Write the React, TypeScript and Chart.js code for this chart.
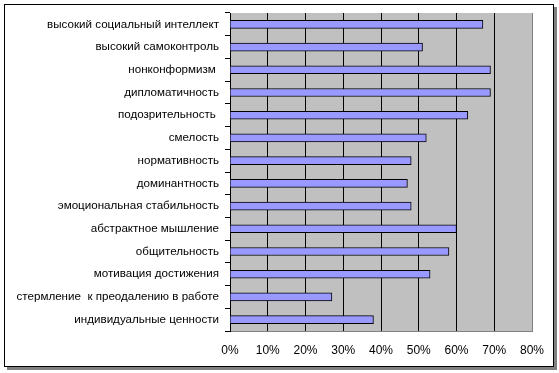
import React, { useEffect, useRef } from "react";
import { Chart, registerables } from "chart.js";

Chart.register(...registerables);

const categories = [
  "высокий социальный интеллект",
  "высокий самоконтроль",
  "нонконформизм ",
  "дипломатичность",
  "подозрительность ",
  "смелость",
  "нормативность",
  "доминантность",
  "эмоциональная стабильность",
  "абстрактное мышление",
  "общительность",
  "мотивация достижения",
  "стермление  к преодалению в работе",
  "индивидуальные ценности",
];

const values = [67, 51, 69, 69, 63, 52, 48, 47, 48, 60, 58, 53, 27, 38];

const xTicks = [0, 10, 20, 30, 40, 50, 60, 70, 80];

const plotBg = {
  id: "plotBg",
  beforeDraw(chart: any) {
    const { ctx, chartArea } = chart;
    ctx.save();
    ctx.fillStyle = "#C0C0C0";
    ctx.fillRect(chartArea.left, chartArea.top, chartArea.right - chartArea.left, chartArea.bottom - chartArea.top);
    ctx.restore();
  },
};

export default function App() {
  const ref = useRef<HTMLCanvasElement>(null);
  useEffect(() => {
    const chart = new Chart(ref.current!, {
      type: "bar",
      data: {
        labels: categories,
        datasets: [
          {
            data: values,
            backgroundColor: "#9999FF",
            borderColor: "#000000",
            borderWidth: 1,
            barThickness: 8,
          },
        ],
      },
      options: {
        indexAxis: "y",
        animation: false,
        responsive: false,
        layout: { padding: { top: 8, right: 21, left: 0, bottom: 0 } },
        plugins: { legend: { display: false }, tooltip: { enabled: false } },
        scales: {
          x: {
            min: 0,
            max: 80,
            afterBuildTicks: (s: any) => {
              s.ticks = xTicks.map((v) => ({ value: v }));
            },
            afterFit: (s: any) => {
              s.height = 35;
              s.paddingLeft = 0;
              s.paddingRight = 0;
            },
            grid: {
              color: (c: any) => (c.tick && c.tick.value === 80 ? "#808080" : "#000000"),
              lineWidth: 1,
              drawTicks: false,
            },
            border: { display: true, color: "#808080" },
            ticks: {
              padding: 12,
              color: "#000",
              font: { family: "Liberation Sans, Arial", size: 12 },
              callback: (v: any) => v + "%",
            },
          },
          y: {
            afterFit: (s: any) => {
              s.width = 225;
              s.paddingTop = 0;
              s.paddingBottom = 0;
            },
            grid: {
              offset: true,
              drawOnChartArea: false,
              drawTicks: true,
              tickLength: 5,
              color: "#000",
            },
            border: { display: true, color: "#000", width: 1 },
            ticks: {
              padding: 6,
              color: "#000",
              font: { family: "Liberation Sans, Arial", size: 11.6 },
            },
          },
        },
      },
      plugins: [plotBg],
    });
    return () => chart.destroy();
  }, []);
  return (
    <div
      style={{
        position: "absolute",
        left: 4,
        top: 4,
        width: 548,
        height: 361,
        border: "1px solid #000",
        boxShadow: "3px 3px 0 #808080",
        background: "#fff",
      }}
    >
      <canvas ref={ref} width={548} height={361} style={{ display: "block" }} />
    </div>
  );
}
